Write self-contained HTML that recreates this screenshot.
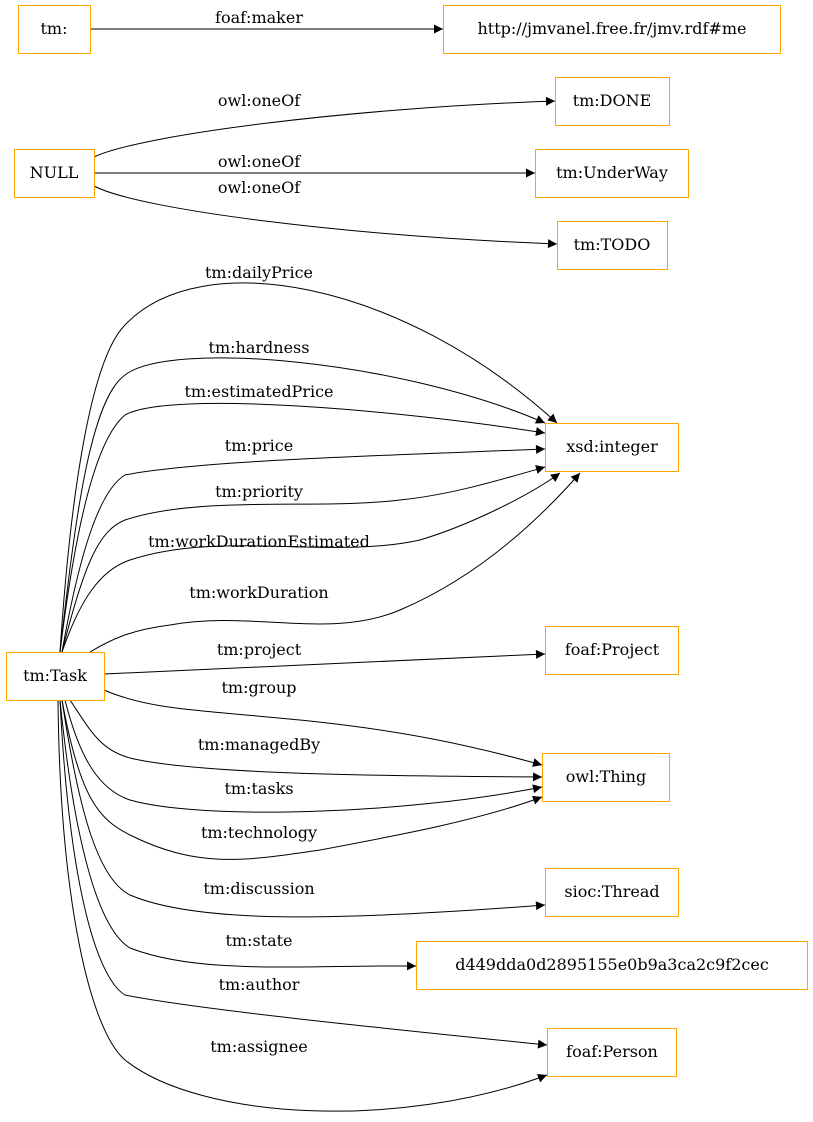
<!DOCTYPE html>
<html><head><meta charset="utf-8"><style>
html,body{margin:0;padding:0;background:#fff;}
svg{display:block;}
text{font-family:"DejaVu Serif",serif;font-size:16px;fill:#000;}
rect{fill:#fff;stroke:#ffa500;stroke-width:1;}
path.e{fill:none;stroke:#000;stroke-width:1;}
</style></head><body>
<svg width="813" height="1122" viewBox="0 0 813 1122" xmlns="http://www.w3.org/2000/svg">
<defs><marker id="a" viewBox="0 0 10 10" refX="10" refY="5" markerWidth="12" markerHeight="9" markerUnits="userSpaceOnUse" orient="auto"><path d="M0,0 L10,5 L0,10 z" fill="#000"/></marker></defs>

<g marker-end="url(#a)">
<path class="e" d="M90,29 L443,29"/>
<path class="e" d="M94,157 C140,135 350,108 555,101"/>
<path class="e" d="M94,173 L535,173"/>
<path class="e" d="M94,186 C140,210 350,236 557,244"/>
<path class="e" d="M60,652 C70,500 90,360 125,325 C200,245 400,280 557,423"/>
<path class="e" d="M60,652 C75,520 90,400 125,375 C170,340 400,360 545,423"/>
<path class="e" d="M60,652 C75,530 95,440 125,415 C170,390 400,410 545,433"/>
<path class="e" d="M62,652 C80,550 100,490 125,475 C200,460 400,455 545,449"/>
<path class="e" d="M62,652 C85,560 100,530 125,520 C200,495 320,510 400,500 C450,495 500,480 545,467"/>
<path class="e" d="M62,652 C80,600 100,570 130,560 C220,530 330,560 420,540 C470,525 530,495 560,473"/>
<path class="e" d="M90,652 C110,640 130,630 170,625 C250,610 330,640 400,610 C470,580 530,530 580,473"/>
<path class="e" d="M104,674 L545,654"/>
<path class="e" d="M104,690 C150,710 200,710 300,720 C400,730 470,745 542,765"/>
<path class="e" d="M70,700 C90,730 100,750 130,758 C200,775 400,776 542,777"/>
<path class="e" d="M65,700 C80,760 100,790 130,800 C200,820 400,815 542,787"/>
<path class="e" d="M62,700 C80,800 100,820 130,835 C200,870 250,860 320,850 C400,835 480,820 542,797"/>
<path class="e" d="M62,700 C80,820 100,880 130,895 C200,925 350,920 545,905"/>
<path class="e" d="M60,700 C75,850 100,930 130,948 C200,975 300,965 416,966"/>
<path class="e" d="M60,700 C70,900 100,980 125,995 C200,1010 400,1030 547,1045"/>
<path class="e" d="M58,700 C60,900 90,1030 125,1060 C200,1120 400,1130 547,1075"/>
</g>

<g text-anchor="middle">
<text x="259" y="23">foaf:maker</text>
<text x="259" y="106">owl:oneOf</text>
<text x="259" y="167">owl:oneOf</text>
<text x="259" y="193">owl:oneOf</text>
<text x="259" y="278">tm:dailyPrice</text>
<text x="259" y="353">tm:hardness</text>
<text x="259" y="397">tm:estimatedPrice</text>
<text x="259" y="451">tm:price</text>
<text x="259" y="497">tm:priority</text>
<text x="259" y="547">tm:workDurationEstimated</text>
<text x="259" y="598">tm:workDuration</text>
<text x="259" y="655">tm:project</text>
<text x="259" y="693">tm:group</text>
<text x="259" y="750">tm:managedBy</text>
<text x="259" y="794">tm:tasks</text>
<text x="259" y="838">tm:technology</text>
<text x="259" y="894">tm:discussion</text>
<text x="259" y="946">tm:state</text>
<text x="259" y="990">tm:author</text>
<text x="259" y="1052">tm:assignee</text>
</g>

<rect x="18.5" y="5.5" width="72" height="48"/>
<rect x="443.5" y="5.5" width="337" height="48"/>
<rect x="555.5" y="77.5" width="114" height="48"/>
<rect x="14.5" y="149.5" width="80" height="48"/>
<rect x="535.5" y="149.5" width="153" height="48"/>
<rect x="557.5" y="221.5" width="110" height="48"/>
<rect x="545.5" y="423.5" width="133" height="48"/>
<rect x="6.5" y="652.5" width="98" height="48"/>
<rect x="545.5" y="626.5" width="133" height="48"/>
<rect x="542.5" y="753.5" width="127" height="48"/>
<rect x="545.5" y="868.5" width="133" height="48"/>
<rect x="416.5" y="941.5" width="391" height="48"/>
<rect x="547.5" y="1028.5" width="129" height="48"/>

<g text-anchor="middle">
<text x="54" y="34">tm:</text>
<text x="612" y="34">http://jmvanel.free.fr/jmv.rdf#me</text>
<text x="612" y="106">tm:DONE</text>
<text x="54" y="178">NULL</text>
<text x="612" y="178">tm:UnderWay</text>
<text x="612" y="250">tm:TODO</text>
<text x="612" y="452">xsd:integer</text>
<text x="55" y="681">tm:Task</text>
<text x="612" y="655">foaf:Project</text>
<text x="606" y="782">owl:Thing</text>
<text x="612" y="897">sioc:Thread</text>
<text x="612" y="970">d449dda0d2895155e0b9a3ca2c9f2cec</text>
<text x="612" y="1057">foaf:Person</text>
</g>
</svg>
</body></html>
